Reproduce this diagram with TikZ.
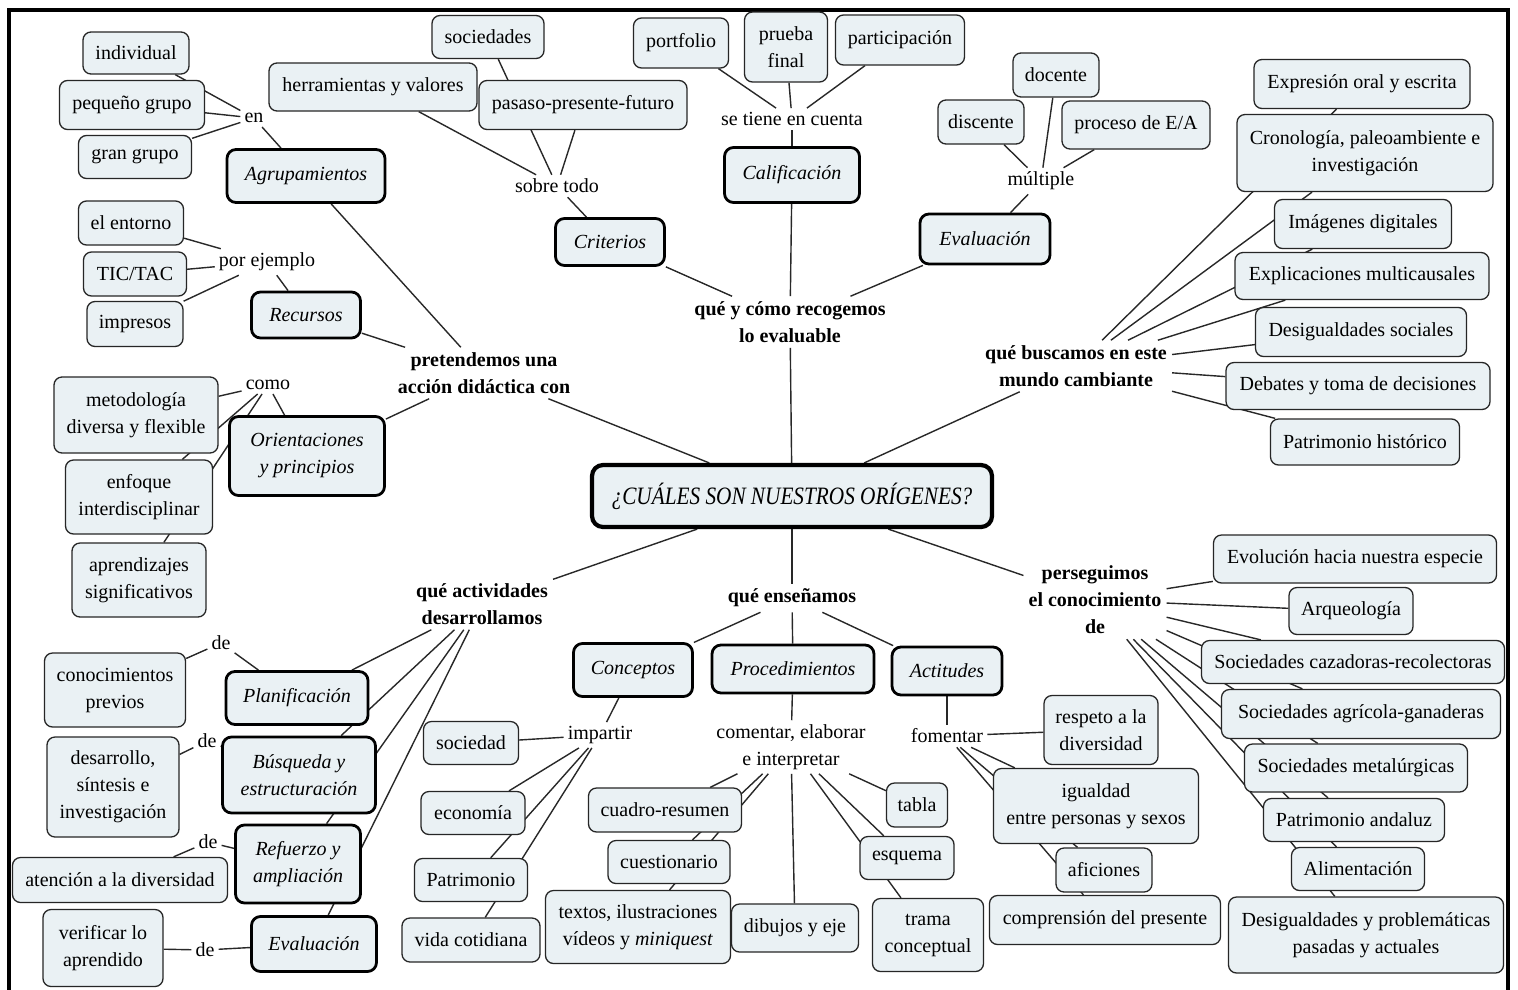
\documentclass[tikz,border=0pt]{standalone}
\usepackage{fontspec}
\usepackage{graphicx}
\setmainfont{Liberation Serif}
\newcommand\fs{\fontsize{20}{27}\selectfont}
\definecolor{boxfill}{RGB}{234,241,244}
\definecolor{lnk}{RGB}{40,40,40}
\pgfdeclarelayer{bg}
\pgfdeclarelayer{lines}
\pgfsetlayers{bg,lines,main}
\begin{document}
\begin{tikzpicture}[x=1pt,y=-1pt,
  every node/.style={font=\fs, align=center},
  cb/.style={draw=black!85, line width=1.3pt, fill=boxfill, rounded corners=8pt, inner sep=0pt},
  mb/.style={draw=black, line width=2.8pt, fill=boxfill, rounded corners=9pt, inner sep=0pt, font=\fs\itshape},
  tb/.style={draw=black, line width=4.2pt, fill=boxfill, rounded corners=11pt, inner sep=0pt},
  lb/.style={inner sep=4pt},
  bl/.style={inner sep=5pt, font=\fs\bfseries},
  cn/.style={draw=lnk, line width=1.4pt}]
\begin{pgfonlayer}{bg}
\fill[white] (0,0) rectangle (1518,989);
\end{pgfonlayer}
\useasboundingbox (0,0) rectangle (1518,989);
\draw[line width=3.5pt] (9,992) -- (9,10) -- (1508,10) -- (1508,992);

% ---------- top left
\node[cb, minimum width=106pt, minimum height=42pt] (ind) at (136,53) {individual};
\node[cb, minimum width=145pt, minimum height=49pt] (peq) at (132,105) {pequeño grupo};
\node[cb, minimum width=113pt, minimum height=43pt] (gran) at (135,157) {gran grupo};
\node[lb] (en) at (254,118) {en};
\node[mb, minimum width=158pt, minimum height=53pt] (agr) at (306,176) {Agrupamientos};
\node[cb, minimum width=105pt, minimum height=44pt] (ent) at (131,223) {el entorno};
\node[cb, minimum width=103pt, minimum height=44pt] (tic) at (135,274) {TIC/TAC};
\node[cb, minimum width=96pt, minimum height=45pt] (imp) at (135,324) {impresos};
\node[lb] (pej) at (267,262) {por ejemplo};
\node[mb, minimum width=109pt, minimum height=46pt] (rec) at (306,315) {Recursos};
\node[bl] (pre) at (484,373) {pretendemos una\\acción didáctica con};
\node[lb] (como) at (268,385) {como};
\node[cb, minimum width=164pt, minimum height=76pt] (met) at (136,415) {metodología\\diversa y flexible};
\node[cb, minimum width=147pt, minimum height=74pt] (enf) at (139,497) {enfoque\\interdisciplinar};
\node[cb, minimum width=134pt, minimum height=74pt] (apr) at (139,580) {aprendizajes\\significativos};
\node[mb, minimum width=155pt, minimum height=79pt] (ori) at (307,456) {Orientaciones\\y principios};

% ---------- top middle
\node[cb, minimum width=208pt, minimum height=48pt] (herr) at (373,87) {herramientas y valores};
\node[cb, minimum width=112pt, minimum height=43pt] (soc) at (488,37) {sociedades};
\node[cb, minimum width=208pt, minimum height=49pt] (pas) at (583,105) {pasaso-presente-futuro};
\node[lb] (sob) at (557,186) {sobre todo};
\node[mb, minimum width=109pt, minimum height=47pt] (cri) at (610,242) {Criterios};
\node[cb, minimum width=95pt, minimum height=50pt] (port) at (681,43) {portfolio};
\node[cb, minimum width=83pt, minimum height=70pt] (prue) at (786,47) {prueba\\final};
\node[cb, minimum width=129pt, minimum height=50pt] (part) at (900,40) {participación};
\node[lb] (stc) at (792,119) {se tiene en cuenta};
\node[mb, minimum width=135pt, minimum height=55pt] (cal) at (792,175) {Calificación};
\node[bl] (qyc) at (790,322) {qué y cómo recogemos\\lo evaluable};
\node[cb, minimum width=86pt, minimum height=44pt] (doc) at (1056,75) {docente};
\node[cb, minimum width=86pt, minimum height=44pt] (dis) at (981,122) {discente};
\node[cb, minimum width=148pt, minimum height=48pt] (pro) at (1136,125) {proceso de E/A};
\node[lb] (mul) at (1041,181) {múltiple};
\node[mb, minimum width=130pt, minimum height=50pt] (evt) at (985,239) {Evaluación};

% ---------- top right
\node[cb, minimum width=216pt, minimum height=49pt] (exp) at (1362,84) {Expresión oral y escrita};
\node[cb, minimum width=256pt, minimum height=77pt] (cro) at (1365,153) {Cronología, paleoambiente e\\investigación};
\node[cb, minimum width=177pt, minimum height=49pt] (ima) at (1363,224) {Imágenes digitales};
\node[cb, minimum width=254pt, minimum height=47pt] (expl) at (1362,276) {Explicaciones multicausales};
\node[cb, minimum width=211pt, minimum height=49pt] (des) at (1361,332) {Desigualdades sociales};
\node[cb, minimum width=264pt, minimum height=47pt] (deb) at (1358,386) {Debates y toma de decisiones};
\node[cb, minimum width=189pt, minimum height=46pt] (pat) at (1365,442) {Patrimonio histórico};
\node[bl] (qb) at (1076,366) {qué buscamos en este\\mundo cambiante};

% ---------- centre
\node[tb, minimum width=400pt, minimum height=62pt] (title) at (792,496) {\scalebox{0.85}[1]{\fontsize{25}{30}\selectfont\itshape ¿CUÁLES SON NUESTROS ORÍGENES?}};

% ---------- bottom left
\node[bl] (qad) at (482,604) {qué actividades\\desarrollamos};
\node[lb] (de1) at (221,643) {de};
\node[cb, minimum width=141pt, minimum height=74pt] (con) at (115,690) {conocimientos\\previos};
\node[mb, minimum width=142pt, minimum height=53pt] (pla) at (297,698) {Planificación};
\node[lb] (de2) at (207,741) {de};
\node[cb, minimum width=132pt, minimum height=100pt] (desa) at (113,787) {desarrollo,\\síntesis e\\investigación};
\node[mb, minimum width=153pt, minimum height=76pt] (bus) at (299,775) {Búsqueda y\\estructuración};
\node[lb] (de3) at (208,842) {de};
\node[cb, minimum width=215pt, minimum height=45pt] (ate) at (120,880) {atención a la diversidad};
\node[mb, minimum width=125pt, minimum height=78pt] (ref) at (298,864) {Refuerzo y\\ampliación};
\node[cb, minimum width=120pt, minimum height=77pt] (ver) at (103,948) {verificar lo\\aprendido};
\node[lb] (de4) at (205,950) {de};
\node[mb, minimum width=125pt, minimum height=55pt] (evb) at (314,944) {Evaluación};

% ---------- bottom middle
\node[bl] (qen) at (792,598) {qué enseñamos};
\node[mb, minimum width=119pt, minimum height=53pt] (conc) at (633,670) {Conceptos};
\node[mb, minimum width=162pt, minimum height=48pt] (proc) at (793,669) {Procedimientos};
\node[mb, minimum width=110pt, minimum height=48pt] (act) at (947,671) {Actitudes};
\node[lb] (imr) at (600,735) {impartir};
\node[cb, minimum width=95pt, minimum height=43pt] (socd) at (471,743) {sociedad};
\node[cb, minimum width=104pt, minimum height=43pt] (eco) at (473,813) {economía};
\node[cb, minimum width=113pt, minimum height=43pt] (patr) at (471,880) {Patrimonio};
\node[cb, minimum width=138pt, minimum height=44pt] (vid) at (471,940) {vida cotidiana};
\node[lb] (com) at (791,747) {comentar, elaborar\\e interpretar};
\node[cb, minimum width=153pt, minimum height=44pt] (cua) at (665,810) {cuadro-resumen};
\node[cb, minimum width=122pt, minimum height=43pt] (cue) at (669,862) {cuestionario};
\node[cb, minimum width=185pt, minimum height=73pt] (tex) at (638,927) {textos, ilustraciones\\vídeos y \textit{miniquest}};
\node[cb, minimum width=127pt, minimum height=48pt] (dib) at (795,928) {dibujos y eje};
\node[cb, minimum width=61pt, minimum height=44pt] (tab) at (917,805) {tabla};
\node[cb, minimum width=94pt, minimum height=43pt] (esq) at (907,858) {esquema};
\node[cb, minimum width=111pt, minimum height=73pt] (tra) at (928,935) {trama\\conceptual};
\node[lb] (fom) at (947,736) {fomentar};
\node[cb, minimum width=114pt, minimum height=69pt] (res) at (1101,730) {respeto a la\\diversidad};
\node[cb, minimum width=205pt, minimum height=75pt] (igu) at (1096,806) {igualdad\\entre personas y sexos};
\node[cb, minimum width=96pt, minimum height=44pt] (afi) at (1104,870) {aficiones};
\node[cb, minimum width=231pt, minimum height=49pt] (comp) at (1105,920) {comprensión del presente};

% ---------- bottom right
\node[bl] (per) at (1095,600) {perseguimos\\el conocimiento\\de};
\node[cb, minimum width=283pt, minimum height=48pt] (evo) at (1355,559) {Evolución hacia nuestra especie};
\node[cb, minimum width=124pt, minimum height=47pt] (arq) at (1351,611) {Arqueología};
\node[cb, minimum width=303pt, minimum height=43pt] (caz) at (1353,662) {Sociedades cazadoras-recolectoras};
\node[cb, minimum width=279pt, minimum height=49pt] (agri) at (1361,714) {Sociedades agrícola-ganaderas};
\node[cb, minimum width=223pt, minimum height=48pt] (meta) at (1356,768) {Sociedades metalúrgicas};
\node[cb, minimum width=181pt, minimum height=43pt] (pand) at (1354,820) {Patrimonio andaluz};
\node[cb, minimum width=133pt, minimum height=43pt] (ali) at (1358,869) {Alimentación};
\node[cb, minimum width=275pt, minimum height=76pt] (dpp) at (1366,935) {Desigualdades y problemáticas\\pasadas y actuales};

% ---------- connectors
\begin{pgfonlayer}{lines}
\foreach \a/\b in {en/ind,en/peq,en/gran,agr/en,agr/pre,
  pej/ent,pej/tic,pej/imp,rec/pej,rec/pre,
  como/met,como/enf,como/apr,ori/como,ori/pre,pre/title,
  sob/herr,sob/soc,sob/pas,cri/sob,cri/qyc,
  stc/port,stc/prue,stc/part,cal/stc,cal/qyc,
  mul/doc,mul/dis,mul/pro,evt/mul,evt/qyc,qyc/title,
  qb/exp,qb/cro,qb/ima,qb/expl,qb/des,qb/deb,qb/pat,title/qb,
  title/qad,title/qen,title/per,
  qad/pla,qad/bus,qad/ref,qad/evb,
  pla/de1,de1/con,bus/de2,de2/desa,ref/de3,de3/ate,evb/de4,de4/ver,
  qen/conc,qen/proc,qen/act,
  conc/imr,imr/socd,imr/eco,imr/patr,imr/vid,
  proc/com,com/cua,com/cue,com/tex,com/dib,com/tab,com/esq,com/tra,
  act/fom,fom/res,fom/igu,fom/afi,fom/comp,
  per/evo,per/arq,per/caz,per/agri,per/meta,per/pand,per/ali,per/dpp}
  \draw[cn] (\a) -- (\b);
\end{pgfonlayer}
\end{tikzpicture}
\end{document}
